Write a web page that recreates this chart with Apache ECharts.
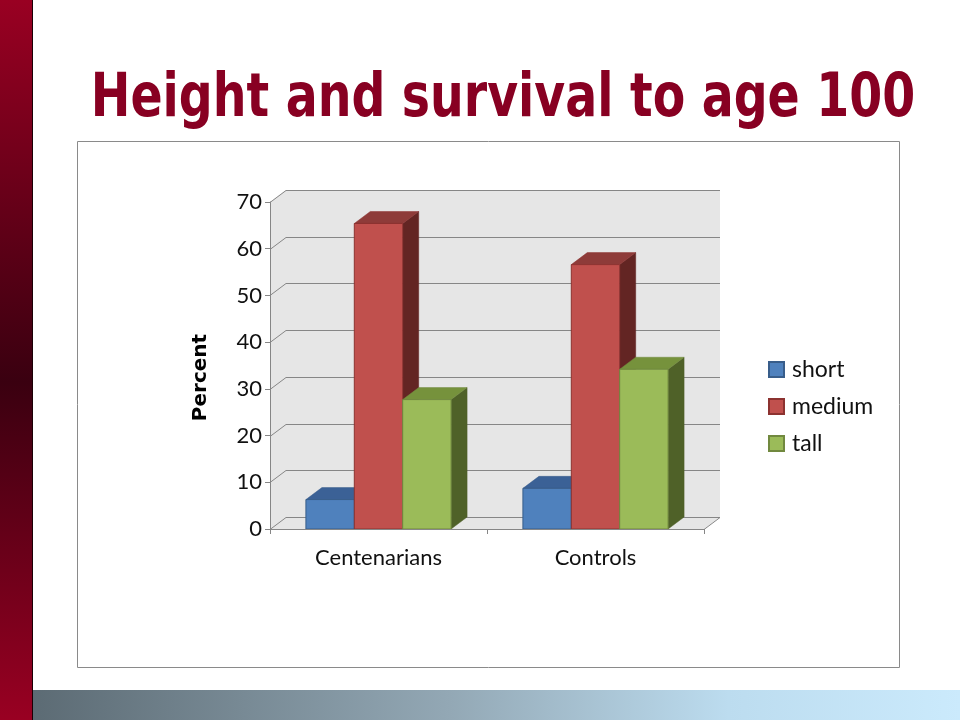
<!DOCTYPE html>
<html>
<head>
<meta charset="utf-8">
<script src="https://cdn.jsdelivr.net/npm/echarts@6/dist/echarts.min.js"></script>
<style>
html,body{margin:0;padding:0;background:#fff;}
#c{width:960px;height:720px;}
</style>
</head>
<body>
<div id="c"></div>
<script>
// ---- data ----
const categories = ['Centenarians', 'Controls'];
const seriesNames = ['short', 'medium', 'tall'];
const shortValues = [6.3, 8.7];
const mediumValues = [65.4, 56.6];
const tallValues = [27.7, 34.2];
const yTickValues = [0, 10, 20, 30, 40, 50, 60, 70];
const titleText = 'Height and survival to age 100';
const yAxisTitle = 'Percent';

// ---- style constants ----
const DX = 16, DY = -12;          // 3D depth offset
const BAR_FRAC = 0.223;           // bar width as fraction of category band
const faceStyles = [
  {front: '#4f81bd', top: '#3b6196', side: '#2c4a74', stroke: '#385d8a'},
  {front: '#c0504d', top: '#8e3b39', side: '#632523', stroke: '#8c3230'},
  {front: '#9bbb59', top: '#76923c', side: '#4f6128', stroke: '#71893f'}
];
const valueSets = [shortValues, mediumValues, tallValues];

const chart = echarts.init(document.getElementById('c'), null, {renderer: 'canvas'});

function barRenderer(idx) {
  const st = faceStyles[idx];
  return function (params, api) {
    const cat = api.value(0);
    const v = api.value(1);
    const base = api.coord([cat, 0]);
    const topP = api.coord([cat, v]);
    const band = api.size([1, 0])[0];
    const bw = band * BAR_FRAC;
    const x0 = base[0] - 1.5 * bw + idx * bw;
    const x1 = x0 + bw;
    const ty = topP[1], by = base[1];
    return {
      type: 'group',
      children: [
        {type: 'polygon', shape: {points: [[x1, ty], [x1 + DX, ty + DY], [x1 + DX, by + DY], [x1, by]]},
         style: {fill: st.side, stroke: st.side, lineWidth: 0.5}},
        {type: 'polygon', shape: {points: [[x0, ty], [x0 + DX, ty + DY], [x1 + DX, ty + DY], [x1, ty]]},
         style: {fill: st.top, stroke: st.stroke, lineWidth: 0.5}},
        {type: 'rect', shape: {x: x0, y: ty, width: bw, height: by - ty},
         style: {fill: st.front, stroke: st.stroke, lineWidth: 1}}
      ]
    };
  };
}

function wallRenderer(params, api) {
  const cs = params.coordSys;
  const x = cs.x, y = cs.y, w = cs.width, h = cs.height;
  const children = [];
  children.push({
    type: 'polygon',
    shape: {points: [[x, y + h], [x, y], [x + DX, y + DY], [x + w + DX, y + DY], [x + w + DX, y + h + DY], [x + w, y + h]]},
    style: {fill: '#e6e6e6', stroke: null}
  });
  const lineStyle = {stroke: '#868686', lineWidth: 1, fill: null};
  yTickValues.forEach(function (t) {
    const py = Math.round(api.coord([0, t])[1]) + 0.5;
    children.push({type: 'polyline', shape: {points: [[x, py], [x + DX, py + DY], [x + w + DX, py + DY]]}, style: lineStyle});
  });
  const fy = Math.round(y + h) + 0.5;
  children.push({type: 'line', shape: {x1: x + w, y1: fy, x2: x + w + DX, y2: fy + DY}, style: lineStyle});
  return {type: 'group', children: children};
}

const series = [{
  type: 'custom',
  name: '_walls',
  renderItem: wallRenderer,
  data: [[0]],
  clip: false,
  silent: true,
  z: 1
}];
seriesNames.forEach(function (name, i) {
  series.push({
    type: 'custom',
    name: name,
    renderItem: barRenderer(i),
    data: categories.map(function (c, k) { return [k, valueSets[i][k]]; }),
    encode: {x: 0, y: 1},
    clip: false,
    itemStyle: {color: faceStyles[i].front, borderColor: faceStyles[i].stroke, borderWidth: 1},
    z: 3
  });
});

const option = {
  backgroundColor: '#ffffff',
  animation: false,
  grid: {left: 270, right: 256, top: 202, bottom: 191, containLabel: false},
  xAxis: {
    type: 'category',
    data: categories,
    axisLine: {show: true, lineStyle: {color: '#868686', width: 1}},
    axisTick: {show: true, length: 5, lineStyle: {color: '#868686'}},
    axisLabel: {color: '#111', fontSize: 22, fontFamily: 'Lato', margin: 18},
    splitLine: {show: false},
    z: 5
  },
  yAxis: {
    type: 'value',
    min: 0, max: 70, interval: 10,
    name: yAxisTitle,
    nameLocation: 'middle',
    nameRotate: 90,
    nameGap: 59,
    nameTextStyle: {fontSize: 20, fontWeight: 'bold', fontFamily: 'DejaVu Sans', color: '#000', padding: [0, 24, 0, 0]},
    axisLine: {show: true, lineStyle: {color: '#868686', width: 1}},
    axisTick: {show: true, length: 5, lineStyle: {color: '#868686'}},
    axisLabel: {color: '#111', fontSize: 22, fontFamily: 'Lato', margin: 8},
    splitLine: {show: false},
    z: 5
  },
  legend: {
    data: seriesNames,
    orient: 'vertical',
    left: 763,
    top: 353,
    itemWidth: 15,
    itemHeight: 15,
    itemGap: 14,
    itemTextGap: 10,
    icon: 'rect',
    textStyle: {fontSize: 23, fontFamily: 'Lato', color: '#111', padding: [0, 0, 0, 3]}
  },
  graphic: [
    {type: 'rect', shape: {x: 0, y: 0, width: 32, height: 720}, silent: true,
     style: {fill: new echarts.graphic.LinearGradient(0, 0, 0, 1, [
       {offset: 0, color: '#990022'}, {offset: 0.53, color: '#3a0010'}, {offset: 1, color: '#990022'}])}},
    {type: 'line', shape: {x1: 32.5, y1: 0, x2: 32.5, y2: 720}, silent: true, style: {stroke: '#1a0006', lineWidth: 1}},
    {type: 'rect', shape: {x: 33, y: 690, width: 927, height: 30}, silent: true,
     style: {fill: new echarts.graphic.LinearGradient(0, 0, 1, 0, [
       {offset: 0, color: '#5c6b74'}, {offset: 0.45, color: '#93a8b5'}, {offset: 0.75, color: '#bcdcef'}, {offset: 1, color: '#cbeafc'}])}},
    {type: 'rect', shape: {x: 77.5, y: 141.5, width: 822, height: 526}, silent: true, z: -1,
     style: {fill: '#fff', stroke: '#8a8a8a', lineWidth: 1}},
    {type: 'text', x: 503, y: 100, scaleX: 0.79, silent: true,
     style: {text: titleText, fill: '#880022', font: 'bold 60px "DejaVu Sans"', textAlign: 'center', textVerticalAlign: 'middle'}}
  ],
  series: series
};
chart.setOption(option);
</script>
</body>
</html>
